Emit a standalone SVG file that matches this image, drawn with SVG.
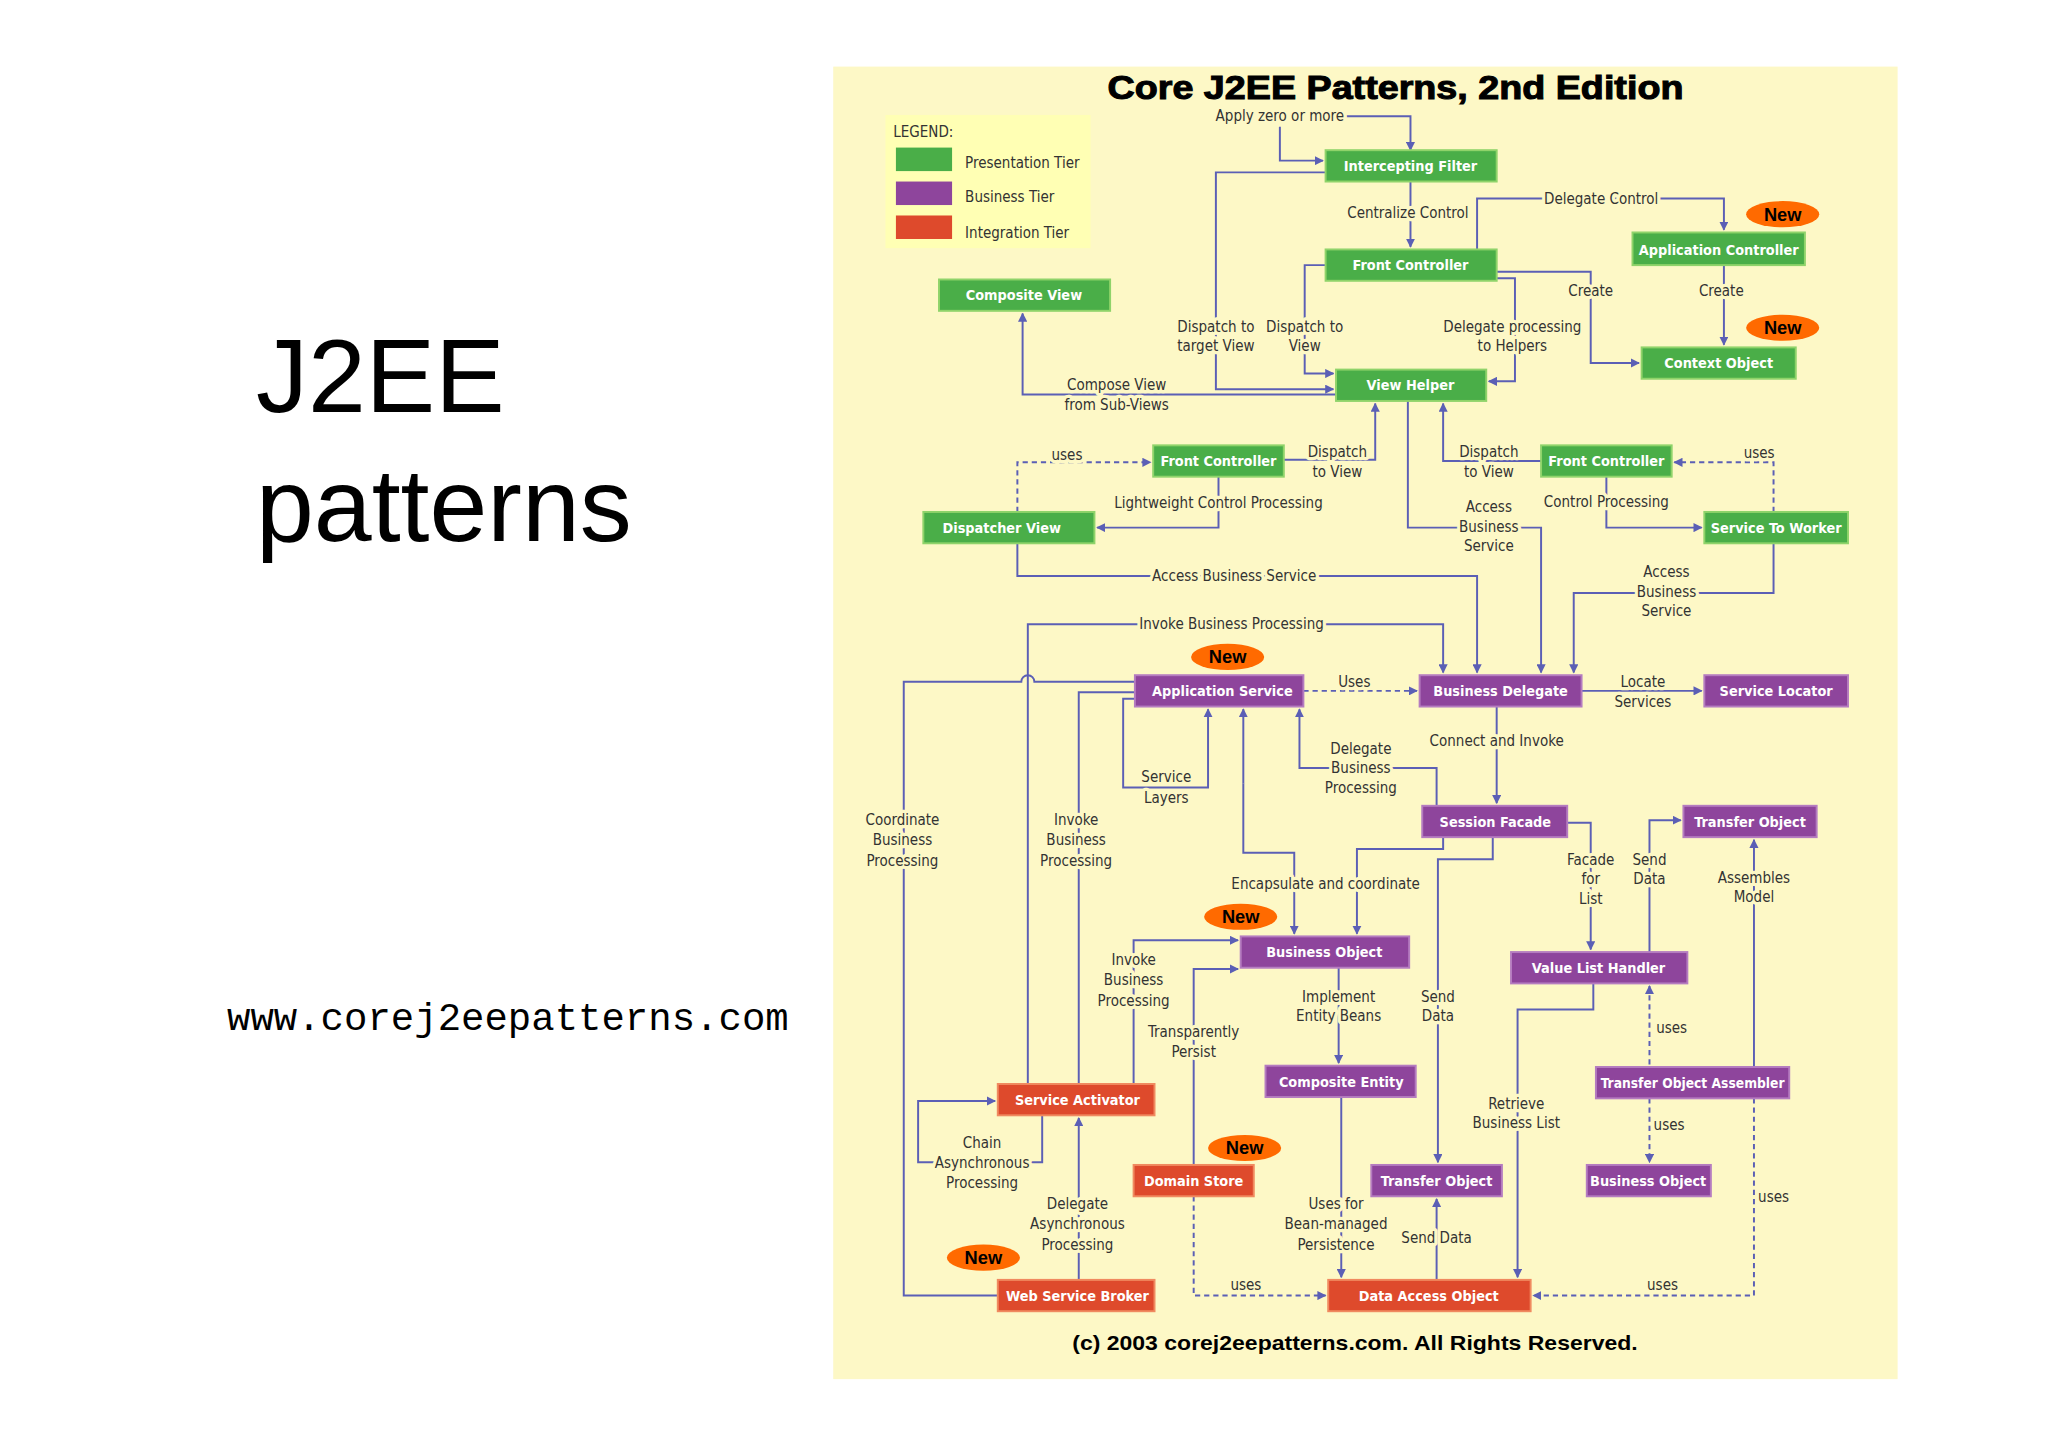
<svg xmlns="http://www.w3.org/2000/svg" width="2048" height="1447" viewBox="0 0 2048 1447">
<defs>
<marker id="ah" viewBox="0 0 10 10" refX="9" refY="5" markerWidth="7" markerHeight="7" markerUnits="userSpaceOnUse" orient="auto"><path d="M0,0L10,5L0,10z" fill="#5b5fb5"/></marker>
<style>
.n rect{stroke-width:1.5}
.g rect{fill:#4aae48;stroke:#8fd36a}
.p rect{fill:#8e459c;stroke:#b57cc0}
.r rect{fill:#de4a2c;stroke:#f08a60}
.n text{fill:#fff;font-family:"DejaVu Sans Condensed","Liberation Sans Narrow",sans-serif;font-size:11px;font-weight:bold;text-anchor:middle}
.c path{fill:none;stroke:#5b5fb5;stroke-width:1.5}
.c .d{stroke-dasharray:4 3}
.a{marker-end:url(#ah)}
.l text{font-family:"DejaVu Sans Condensed","Liberation Sans Narrow",sans-serif;font-size:11.5px;fill:#333;text-anchor:middle;stroke:#fdf8c6;stroke-width:5px;paint-order:stroke;stroke-linejoin:round}
.new ellipse{fill:#ff6a00}
.new text{font-family:"Liberation Sans",sans-serif;font-weight:bold;font-size:14px;fill:#000;text-anchor:middle}
</style>
</defs>
<rect width="2048" height="1447" fill="#fff"/>
<text x="256" y="412" font-family="Liberation Sans,sans-serif" font-size="104" fill="#000">J2EE</text>
<text x="256" y="541" font-family="Liberation Sans,sans-serif" font-size="104" fill="#000">patterns</text>
<text x="227" y="1030" font-family="Liberation Mono,monospace" font-size="39" fill="#000">www.corej2eepatterns.com</text>
<g transform="scale(1.306)">
<rect x="638" y="51" width="815" height="1005" fill="#fdf8c6"/>
<text x="848" y="76" textLength="441" lengthAdjust="spacingAndGlyphs" font-family="Liberation Sans,sans-serif" font-weight="bold" font-size="25" fill="#000" stroke="#000" stroke-width="0.8">Core J2EE Patterns, 2nd Edition</text>
<text x="821" y="1034" textLength="433" lengthAdjust="spacingAndGlyphs" font-family="Liberation Sans,sans-serif" font-weight="bold" font-size="16" fill="#000">(c) 2003 corej2eepatterns.com. All Rights Reserved.</text>
<g id="legend">
<rect x="678" y="88" width="157" height="102" fill="#ffffb4"/>
<g font-family="DejaVu Sans Condensed,sans-serif" font-size="11.5" fill="#333">
<text x="684" y="105">LEGEND:</text>
<rect x="686" y="113" width="43" height="18" fill="#4aae48"/><text x="739" y="129">Presentation Tier</text>
<rect x="686" y="139" width="43" height="18" fill="#8e459c"/><text x="739" y="155">Business Tier</text>
<rect x="686" y="165" width="43" height="18" fill="#de4a2c"/><text x="739" y="182">Integration Tier</text>
</g>
</g>
<g id="connectors" class="c">
<path class="a" d="M1031,89H1080V115"/>
<path class="a" d="M980,97V123H1013"/>
<path class="a" d="M1080,139V189"/>
<path class="a" d="M1015,132H931V298H1021"/>
<path class="a" d="M1015,203H999V286H1021"/>
<path class="a" d="M1131,191V152H1320V176"/>
<path class="a" d="M1146,208H1218V278H1255"/>
<path class="a" d="M1146,213H1160V292H1140"/>
<path class="a" d="M1320,203V264"/>
<path class="a" d="M1023,302H783V240"/>
<path class="a" d="M983,352H1053V309"/>
<path class="a" d="M1180,353H1105V309"/>
<path class="a d" d="M779,392V354H881"/>
<path class="a d" d="M1358,392V354H1282"/>
<path class="a" d="M933,365V404H840"/>
<path class="a" d="M1230,365V404H1303"/>
<path class="a" d="M1078,307V404H1180V515"/>
<path class="a" d="M779,416V441H1131V515"/>
<path class="a" d="M1358,416V454H1205V515"/>
<path class="a" d="M787,830V478H1105V515"/>
<path d="M869,522H792A5,5 0 0 0 782,522H692V992H764"/>
<path d="M869,530H826V830"/>
<path class="a" d="M869,535H860V603H925V543"/>
<path class="a" d="M1105,641V650H1039V715"/>
<path class="a" d="M952,600V543"/>
<path class="a" d="M952,600V653H991V715"/>
<path class="a" d="M1100,617V588H995V543"/>
<path class="a" d="M1146,541V615"/>
<path class="a d" d="M998,529H1085"/>
<path class="a" d="M1211,529H1303"/>
<path class="a" d="M1200,630H1218V727"/>
<path class="a" d="M1263,729V628H1287"/>
<path class="a" d="M1343,817V643"/>
<path class="a" d="M1143,641V658H1101V890"/>
<path class="a" d="M868,830V720H948"/>
<path class="a" d="M914,892V742H948"/>
<path class="a" d="M1025,741V814"/>
<path class="a" d="M1220,753V773H1162V978"/>
<path class="a d" d="M1263,815V755"/>
<path class="a d" d="M1263,841V890"/>
<path class="a d" d="M1343,841V992H1174"/>
<path class="a" d="M1027,840V978"/>
<path class="a" d="M1100,980V918"/>
<path class="a d" d="M914,916V992H1015"/>
<path class="a" d="M798,854V890H703V843H762"/>
<path class="a" d="M826,980V856"/>
</g>
<g id="labels" class="l">
<text x="980" y="93">Apply zero or more</text>
<text x="1078" y="167">Centralize Control</text>
<text x="931" y="254">Dispatch to</text><text x="931" y="269">target View</text>
<text x="999" y="254">Dispatch to</text><text x="999" y="269">View</text>
<text x="1226" y="156">Delegate Control</text>
<text x="1218" y="227">Create</text>
<text x="1158" y="254">Delegate processing</text><text x="1158" y="269">to Helpers</text>
<text x="1318" y="227">Create</text>
<text x="855" y="299">Compose View</text><text x="855" y="314">from Sub-Views</text>
<text x="1024" y="350">Dispatch</text><text x="1024" y="365">to View</text>
<text x="1140" y="350">Dispatch</text><text x="1140" y="365">to View</text>
<text x="817" y="352">uses</text>
<text x="1347" y="351">uses</text>
<text x="933" y="389">Lightweight Control Processing</text>
<text x="1230" y="388">Control Processing</text>
<text x="1140" y="392">Access</text><text x="1140" y="407">Business</text><text x="1140" y="422">Service</text>
<text x="945" y="445">Access Business Service</text>
<text x="1276" y="442">Access</text><text x="1276" y="457">Business</text><text x="1276" y="472">Service</text>
<text x="943" y="482">Invoke Business Processing</text>
<text x="691" y="632">Coordinate</text><text x="691" y="647">Business</text><text x="691" y="663">Processing</text>
<text x="824" y="632">Invoke</text><text x="824" y="647">Business</text><text x="824" y="663">Processing</text>
<text x="893" y="599">Service</text><text x="893" y="615">Layers</text>
<text x="1015" y="681">Encapsulate and coordinate</text>
<text x="1042" y="577">Delegate</text><text x="1042" y="592">Business</text><text x="1042" y="607">Processing</text>
<text x="1146" y="571">Connect and Invoke</text>
<text x="1037" y="526">Uses</text>
<text x="1258" y="526">Locate</text><text x="1258" y="541">Services</text>
<text x="1218" y="662">Facade</text><text x="1218" y="677">for</text><text x="1218" y="692">List</text>
<text x="1263" y="662">Send</text><text x="1263" y="677">Data</text>
<text x="1343" y="676">Assembles</text><text x="1343" y="691">Model</text>
<text x="1101" y="767">Send</text><text x="1101" y="782">Data</text>
<text x="868" y="739">Invoke</text><text x="868" y="754">Business</text><text x="868" y="770">Processing</text>
<text x="914" y="794">Transparently</text><text x="914" y="809">Persist</text>
<text x="1025" y="767">Implement</text><text x="1025" y="782">Entity Beans</text>
<text x="1161" y="849">Retrieve</text><text x="1161" y="864">Business List</text>
<text x="1280" y="791">uses</text>
<text x="1278" y="865">uses</text>
<text x="1358" y="920">uses</text>
<text x="1273" y="988">uses</text>
<text x="1023" y="926">Uses for</text><text x="1023" y="941">Bean-managed</text><text x="1023" y="957">Persistence</text>
<text x="1100" y="952">Send Data</text>
<text x="954" y="988">uses</text>
<text x="752" y="879">Chain</text><text x="752" y="894">Asynchronous</text><text x="752" y="910">Processing</text>
<text x="825" y="926">Delegate</text><text x="825" y="941">Asynchronous</text><text x="825" y="957">Processing</text>
</g>
<g id="badges" class="new">
<g><ellipse cx="1365" cy="164" rx="28" ry="10"/><text x="1365" y="169">New</text></g>
<g><ellipse cx="1365" cy="251" rx="28" ry="10"/><text x="1365" y="256">New</text></g>
<g><ellipse cx="940" cy="503" rx="28" ry="10"/><text x="940" y="508">New</text></g>
<g><ellipse cx="950" cy="702" rx="28" ry="10"/><text x="950" y="707">New</text></g>
<g><ellipse cx="953" cy="879" rx="28" ry="10"/><text x="953" y="884">New</text></g>
<g><ellipse cx="753" cy="963" rx="28" ry="10"/><text x="753" y="968">New</text></g>
</g>
<g id="n-if" class="n g"><rect x="1015" y="115" width="131" height="24"/><text x="1080" y="131">Intercepting Filter</text></g>
<g id="n-fc" class="n g"><rect x="1015" y="191" width="131" height="24"/><text x="1080" y="207">Front Controller</text></g>
<g id="n-ac" class="n g"><rect x="1250" y="178" width="132" height="25"/><text x="1316" y="195">Application Controller</text></g>
<g id="n-co" class="n g"><rect x="1257" y="266" width="118" height="24"/><text x="1316" y="282">Context Object</text></g>
<g id="n-cv" class="n g"><rect x="719" y="214" width="131" height="24"/><text x="784" y="230">Composite View</text></g>
<g id="n-vh" class="n g"><rect x="1023" y="283" width="115" height="24"/><text x="1080" y="299">View Helper</text></g>
<g id="n-fcl" class="n g"><rect x="883" y="341" width="100" height="24"/><text x="933" y="357">Front Controller</text></g>
<g id="n-fcr" class="n g"><rect x="1180" y="341" width="100" height="24"/><text x="1230" y="357">Front Controller</text></g>
<g id="n-dv" class="n g"><rect x="707" y="392" width="131" height="24"/><text x="767" y="408">Dispatcher View</text></g>
<g id="n-stw" class="n g"><rect x="1305" y="392" width="110" height="24"/><text x="1360" y="408">Service To Worker</text></g>
<g id="n-as" class="n p"><rect x="869" y="517" width="129" height="24"/><text x="936" y="533">Application Service</text></g>
<g id="n-bd" class="n p"><rect x="1087" y="517" width="124" height="24"/><text x="1149" y="533">Business Delegate</text></g>
<g id="n-sl" class="n p"><rect x="1305" y="517" width="110" height="24"/><text x="1360" y="533">Service Locator</text></g>
<g id="n-sf" class="n p"><rect x="1089" y="617" width="111" height="24"/><text x="1145" y="633">Session Facade</text></g>
<g id="n-to1" class="n p"><rect x="1289" y="617" width="102" height="24"/><text x="1340" y="633">Transfer Object</text></g>
<g id="n-bo1" class="n p"><rect x="950" y="717" width="129" height="24"/><text x="1014" y="733">Business Object</text></g>
<g id="n-vlh" class="n p"><rect x="1157" y="729" width="135" height="24"/><text x="1224" y="745">Value List Handler</text></g>
<g id="n-ce" class="n p"><rect x="969" y="816" width="115" height="24"/><text x="1027" y="832">Composite Entity</text></g>
<g id="n-toa" class="n p"><rect x="1222" y="817" width="148" height="24"/><text x="1296" y="833" style="font-size:10.5px">Transfer Object Assembler</text></g>
<g id="n-sa" class="n r"><rect x="764" y="830" width="120" height="24"/><text x="825" y="846">Service Activator</text></g>
<g id="n-ds" class="n r"><rect x="868" y="892" width="92" height="24"/><text x="914" y="908">Domain Store</text></g>
<g id="n-to2" class="n p"><rect x="1050" y="892" width="100" height="24"/><text x="1100" y="908">Transfer Object</text></g>
<g id="n-bo2" class="n p"><rect x="1215" y="892" width="95" height="24"/><text x="1262" y="908">Business Object</text></g>
<g id="n-wsb" class="n r"><rect x="764" y="980" width="120" height="24"/><text x="825" y="996">Web Service Broker</text></g>
<g id="n-dao" class="n r"><rect x="1017" y="980" width="155" height="24"/><text x="1094" y="996">Data Access Object</text></g>
</g>
</svg>
